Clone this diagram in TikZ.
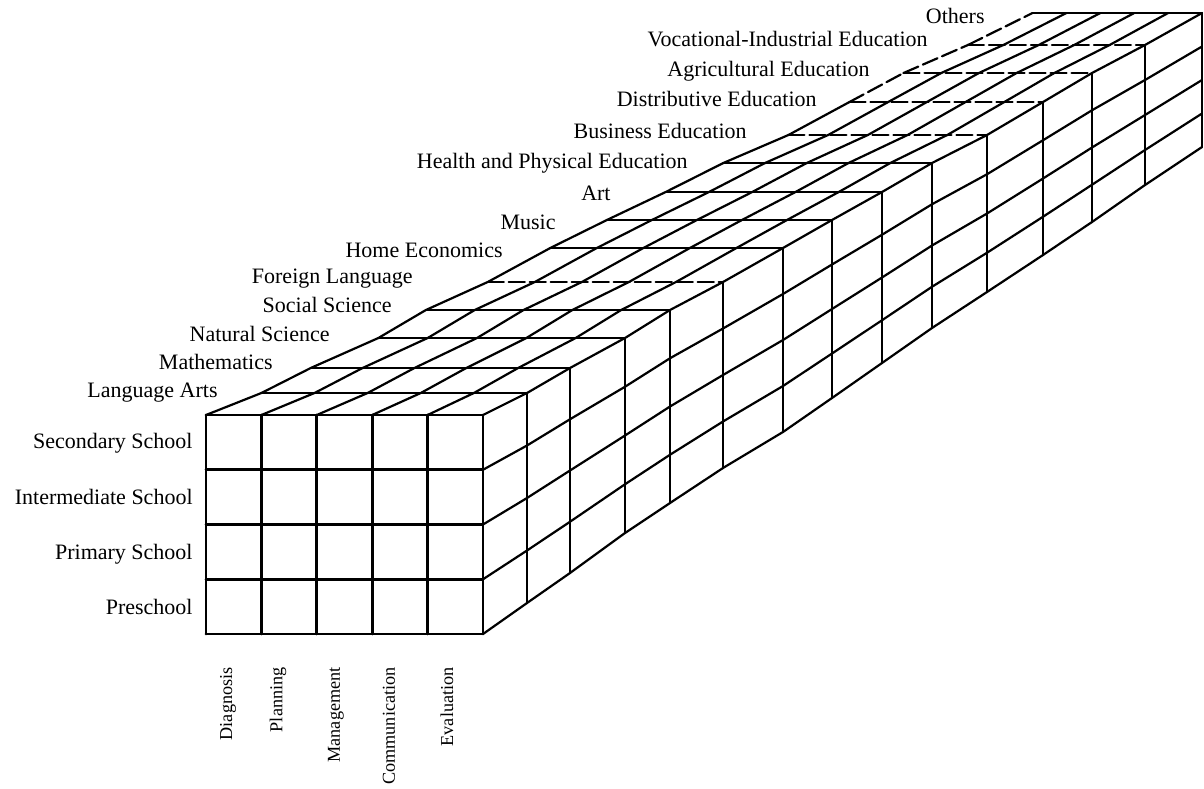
\documentclass[tikz,border=0pt]{standalone}
\usepackage{fontspec}
\setmainfont{Liberation Serif}
\begin{document}
\begin{tikzpicture}[x=0.5pt,y=-0.5pt,line cap=round,line join=round,
  grid/.style={line width=1.1pt},
  front/.style={line width=1.4pt},
  lab/.style={font=\fontsize{11}{13}\selectfont,inner sep=0pt},
  clab/.style={font=\fontsize{9.1}{11}\selectfont,inner sep=0pt,rotate=90,anchor=east},
  dsh/.style={dash pattern=on 8pt off 2.5pt},
  sld/.style={}]
\useasboundingbox (0,0) rectangle (1204,788);
% slice boundaries: index / right x / top y / bottom y
\foreach \k/\xr/\t/\b in {0/483/415/634,1/527/393/603,2/570/368/573,3/625/338/533,
  4/670/310/503,5/723/282/468,6/783/248/432,7/832/220/398,8/882/192/363,
  9/932/163/328,10/987/135/292,11/1043/102/255,12/1092/73/222,13/1145/45/185,
  14/1202/13/147}{
  \pgfmathsetmacro\cw{55.4*(\b-\t)/219}
  \pgfmathsetmacro\rh{(\b-\t)/4}
  \foreach \u in {0,...,5}{\coordinate (T\k-\u) at ({\xr-(5-\u)*\cw},\t);}
  \foreach \v in {0,...,4}{\coordinate (S\k-\v) at (\xr,{\t+\v*\rh});}
}
% lines running in depth
\foreach \k/\kk/\st in {0/1/sld,1/2/sld,2/3/sld,3/4/sld,4/5/sld,5/6/sld,6/7/sld,
  7/8/sld,8/9/sld,9/10/sld,10/11/sld,11/12/dsh,12/13/dsh,13/14/dsh}{
  \draw[grid,\st] (T\k-0) -- (T\kk-0);
  \foreach \u in {1,...,5}{\draw[grid] (T\k-\u) -- (T\kk-\u);}
  \foreach \v in {1,...,4}{\draw[grid] (S\k-\v) -- (S\kk-\v);}
}
% slice boundaries on top and side
\foreach \k/\st in {1/sld,2/sld,3/sld,4/sld,5/dsh,6/sld,7/sld,8/sld,9/sld,
  10/dsh,11/dsh,12/dsh,13/dsh,14/sld}{
  \draw[grid,\st] (T\k-0) -- (T\k-5);
  \draw[grid] (S\k-0) -- (S\k-4);
}
% front face
\foreach \u in {0,...,5}{\draw[front] (T0-\u) -- ++(0,219);}
\foreach \v in {0,...,4}{\draw[front] (S0-\v) -- ++(-277,0);}
% depth labels
\node[lab,anchor=base east] (d14) at (985,23) {Others};
\node[lab,anchor=base east] (d13) at (928,46) {Vocational-Industrial Education};
\node[lab,anchor=base east] (d12) at (870,76) {Agricultural Education};
\node[lab,anchor=base east] (d11) at (817,106) {Distributive Education};
\node[lab,anchor=base east] (d10) at (747,138) {Business Education};
\node[lab,anchor=base east] (d9) at (688,168) {Health and Physical Education};
\node[lab,anchor=base east] (d8) at (611,200) {Art};
\node[lab,anchor=base east] (d7) at (556,229) {Music};
\node[lab,anchor=base east] (d6) at (503,257) {Home Economics};
\node[lab,anchor=base east] (d5) at (413,283) {Foreign Language};
\node[lab,anchor=base east] (d4) at (392,312) {Social Science};
\node[lab,anchor=base east] (d3) at (330,341) {Natural Science};
\node[lab,anchor=base east] (d2) at (273,369) {Mathematics};
\node[lab,anchor=base east] (d1) at (218,397) {Language Arts};
% row labels
\node[lab,anchor=base east] (r1) at (193,448) {Secondary School};
\node[lab,anchor=base east] (r2) at (193,504) {Intermediate School};
\node[lab,anchor=base east] (r3) at (193,559) {Primary School};
\node[lab,anchor=base east] (r4) at (193,614) {Preschool};
% column labels
\node[clab] (c1) at (228,667) {Diagnosis};
\node[clab] (c2) at (278,667) {Planning};
\node[clab] (c3) at (336,667) {Management};
\node[clab] (c4) at (389,667) {Communication};
\node[clab] (c5) at (447,667) {Evaluation};
\end{tikzpicture}
\end{document}
